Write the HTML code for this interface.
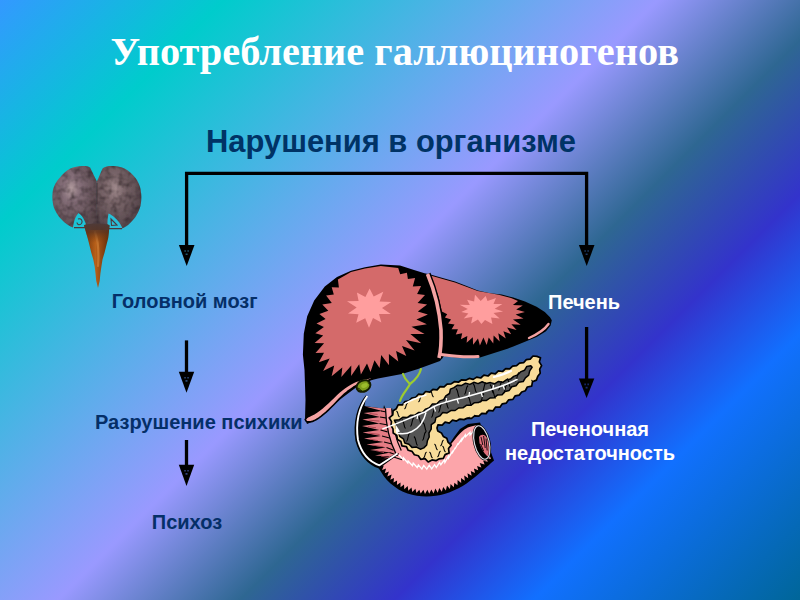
<!DOCTYPE html>
<html lang="ru"><head><meta charset="utf-8"><title>Употребление галлюциногенов</title>
<style>
html,body{margin:0;padding:0;}
body{width:800px;height:600px;overflow:hidden;position:relative;font-family:"Liberation Sans",sans-serif;
background:linear-gradient(135deg,#3399ff 0%,#00cccc 16%,#9999ff 47%,#2e6792 60%,#3333cc 71%,#1170ff 81%,#006699 100%);}
.t{position:absolute;white-space:nowrap;font-weight:bold;line-height:1;}
#title{left:110.4px;top:32px;font-family:"Liberation Serif",serif;font-size:40.35px;color:#fff;}
#sub{left:206px;top:126.8px;font-size:30.9px;color:#003366;}
.l{font-size:20px;color:#052f68;}
.w{font-size:20px;color:#fff;}
svg{position:absolute;left:0;top:0;}
</style></head><body>
<svg width="800" height="600" viewBox="0 0 800 600">
<defs>
<radialGradient id="lobeL" cx="0.42" cy="0.36" r="0.62"><stop offset="0" stop-color="#b29c9f"/><stop offset="0.3" stop-color="#86707a"/><stop offset="1" stop-color="#5a494e"/></radialGradient>
<radialGradient id="lobeR" cx="0.40" cy="0.36" r="0.66"><stop offset="0" stop-color="#a48e90"/><stop offset="0.3" stop-color="#7c686c"/><stop offset="1" stop-color="#524348"/></radialGradient>
<linearGradient id="stem" x1="0" x2="1" y1="0" y2="0"><stop offset="0" stop-color="#6b300a"/><stop offset="0.45" stop-color="#b8601a"/><stop offset="1" stop-color="#5e2a08"/></linearGradient>
<linearGradient id="stemtop" x1="0" x2="0" y1="0" y2="1"><stop offset="0" stop-color="#4e3a38" stop-opacity="1"/><stop offset="0.45" stop-color="#5a3420" stop-opacity="0.75"/><stop offset="1" stop-color="#7a3c10" stop-opacity="0"/></linearGradient>
<filter id="tex" x="0" y="0" width="1" height="1"><feTurbulence type="fractalNoise" baseFrequency="0.16" numOctaves="2" seed="4" result="n"/><feColorMatrix in="n" type="matrix" values="0 0 0 0 0  0 0 0 0 0  0 0 0 0 0  1.6 0 0 0 -0.62" result="a"/><feFlood flood-color="#2e2226"/><feComposite operator="in" in2="a"/><feComposite operator="in" in2="SourceAlpha" result="dark"/><feMerge><feMergeNode in="SourceGraphic"/><feMergeNode in="dark"/></feMerge></filter>
</defs>
<g id="brain">
<path d="M84,225.5 C88,222 105,222 109.6,225.5 L108.2,238 L104.6,252.4 L102.5,259.5 L101.4,266.6 L100.4,273.6 L99.7,280.7 L98,288 L96.2,280.7 L95.5,273.6 L94.7,266.6 L93.3,259.5 L91.2,252.4 L87.7,238 Z" fill="url(#stem)"/>
<path d="M95,232 C98,240 99,252 98,266" stroke="#cf7d35" stroke-width="2.2" fill="none" opacity="0.7" stroke-linecap="round"/>
<g filter="url(#tex)">
<path d="M96.9,181.5 L90,167.4 C88,166.3 85.5,165.9 82.5,166 C78,166.3 74,167 70,168.7 C66,171 62.5,174 60,177.5 C56.5,181 54,186 53,190 C52.3,194 52.2,197 52.5,200 C52.8,204 53.5,207 55,210 C57,214 59.5,217.5 62.5,220.5 C65.5,223.5 69,226 73,227.5 C73.5,222 75.5,216 78.5,213 C82,215 85,220 86.5,226 L86,230 L97,230 Z" fill="url(#lobeL)"/>
<path d="M96.9,181.5 L102.7,168.2 C105,166.5 108.5,165.9 112.5,166 C117,166.3 121,167 125,168.7 C129,171 132.5,174 135,177.5 C138,181 140,186 140.7,190 C141.3,194 141.4,197 141.2,200 C141,204 140.3,207.5 138.7,211 C137,215 135,218 132.5,220.5 C130,223.5 126.5,226.5 122.5,228.5 C120,222 114.5,216 108.5,213.5 C107.5,218 107.3,223 107.5,227 L108,230 L97,230 Z" fill="url(#lobeR)"/>
</g>
<path d="M97,183 L97,204" stroke="#3e3034" stroke-width="1.6" opacity="0.5"/>
<path d="M74,227.6 L86,227.6 M108,228.6 L122,228.6" stroke="#4a3a3e" stroke-width="1.2"/>
<path d="M78,219 C81.5,218 83,221 81.5,223.5 C80,225.5 77,225 77,222.5 M111,219 L117,225 L111.5,225.5 Z" stroke="#4a3a3e" stroke-width="1.1" fill="none"/>
<path d="M84.2,225 C90,223 104,223 109.4,225 L107.6,243 L88.8,243 Z" fill="url(#stemtop)"/>
</g>
<g id="arrows">
<path d="M186.6,246 V173.4 H586.6 V246" fill="none" stroke="#000" stroke-width="3.3" stroke-linejoin="miter"/>
<polygon points="178.9,245 194.5,245 186.7,266.1" fill="#000"/>
<polygon points="578.9,245 594.5,245 586.7,266.1" fill="#000"/>
<rect x="184.85" y="340.4" width="3.3" height="32.3" fill="#000"/><polygon points="178.8,371.7 194.2,371.7 186.5,392.7" fill="#000"/>
<rect x="184.85" y="440" width="3.3" height="25.7" fill="#000"/><polygon points="178.8,464.7 194.2,464.7 186.5,486" fill="#000"/>
<rect x="584.95" y="327" width="3.3" height="52.4" fill="#000"/><polygon points="578.9,378.4 594.3,378.4 586.6,398" fill="#000"/>
<path d="M184.4,250.2 h1.5 v1.6 h-1.5 Z M187.4,250.2 h1.5 v1.6 h-1.5 Z M185.6,253.4 h2 v1.7 h-2 Z" fill="#1f5870"/>
<path d="M584.4,250.2 h1.5 v1.6 h-1.5 Z M587.4,250.2 h1.5 v1.6 h-1.5 Z M585.6,253.4 h2 v1.7 h-2 Z" fill="#1c3a66"/>
<path d="M184.3,376.9 h1.5 v1.6 h-1.5 Z M187.3,376.9 h1.5 v1.6 h-1.5 Z M185.5,380.1 h2 v1.7 h-2 Z" fill="#2c4a78"/>
<path d="M184.3,469.9 h1.5 v1.6 h-1.5 Z M187.3,469.9 h1.5 v1.6 h-1.5 Z M185.5,473.1 h2 v1.7 h-2 Z" fill="#33407e"/>
<path d="M584.4,383.6 h1.5 v1.6 h-1.5 Z M587.4,383.6 h1.5 v1.6 h-1.5 Z M585.6,386.8 h2 v1.7 h-2 Z" fill="#182a70"/>
</g>
<g id="liver">
<polygon points="305.0,419.0 305.5,400.0 304.5,370.0 302.9,354.7 303.8,333.8 307.2,316.2 314.2,300.5 324.8,286.5 337.0,276.9 351.0,270.8 365.0,267.2 380.8,264.6 400.0,265.5 414.0,269.9 424.5,273.2 430.5,274.6 440.0,277.2 455.0,281.6 466.0,285.8 477.8,290.4 490.0,293.2 501.7,294.6 513.3,297.5 525.0,301.6 536.6,306.8 544.8,312.0 550.0,317.3 551.8,320.2 550.6,325.5 546.0,331.3 536.6,337.0 525.0,341.8 513.3,346.5 507.5,348.8 480.0,357.5 460.0,358.0 444.0,356.0 440.0,361.0 418.0,369.0 402.0,374.0 378.0,378.5 370.0,380.5 356.0,387.5 340.0,399.5 326.0,412.5 314.0,421.0 307.0,424.0" fill="#000"/>
<polygon points="307.0,417.2 307.7,416.9 309.0,416.2 310.9,415.2 313.6,414.0 316.3,412.3 319.1,410.4 322.0,408.1 325.0,405.4 327.9,402.8 330.7,400.2 333.4,397.6 336.1,394.9 338.8,392.4 341.6,390.1 344.5,387.9 347.5,385.8 350.4,384.0 353.2,382.5 355.9,381.3 358.6,380.4 361.1,379.6 363.5,378.9 365.9,378.4 368.1,378.1 369.8,377.8 370.9,377.6 371.5,377.5 372.2,378.9 371.8,379.1 370.9,379.4 369.7,379.8 368.0,380.5 366.1,381.2 363.9,382.1 361.6,383.1 358.9,384.2 356.2,385.6 353.4,387.3 350.5,389.3 347.5,391.5 344.6,393.9 341.8,396.5 339.1,399.1 336.4,402.0 333.8,404.7 331.2,407.3 328.6,409.8 325.9,412.3 323.4,414.4 321.0,416.4 318.6,418.1 316.4,419.5 314.3,420.6 312.4,421.4 310.6,421.8 309.0,421.8 307.7,421.7 306.7,421.4 306.1,421.0 305.7,420.4 305.5,420.0 305.3,419.6 305.2,419.5" fill="#f4a2a2" stroke="#000" stroke-width="1.6" stroke-linejoin="round"/>
<polygon points="337.9,279.5 351.0,272.0 365.0,268.5 380.8,265.9 398.2,268.0 400.2,274.3 406.9,272.8 407.9,278.9 415.1,278.1 412.8,286.4 421.1,285.9 417.1,293.9 425.0,294.9 417.6,303.0 427.1,304.6 417.8,311.4 427.9,314.5 416.4,319.5 426.9,324.3 411.5,326.7 424.6,333.9 410.4,334.0 421.3,343.2 406.0,339.9 414.6,350.4 402.0,345.9 406.3,356.0 396.1,350.9 398.3,361.6 388.9,353.9 389.0,365.2 381.2,355.0 379.6,368.1 374.5,360.2 370.5,372.0 367.0,363.4 360.9,374.5 359.2,364.3 351.1,375.9 351.3,365.5 341.3,377.0 342.3,367.5 331.6,376.2 334.2,365.4 323.1,371.1 329.7,358.6 318.8,362.2 324.0,352.7 315.5,352.9 324.1,343.3 314.6,343.1 323.2,335.6 315.3,333.3 323.9,327.1 316.5,323.4 325.6,318.9 319.4,314.0 328.3,310.8 322.3,304.5 331.8,303.1 326.1,295.4 333.8,294.6 331.7,287.2 338.9,287.4" fill="#d46a6a"/>
<polygon points="391.3,302.0 382.0,308.0 390.8,314.1 379.0,314.0 381.4,322.5 373.0,318.0 369.0,327.7 365.2,318.3 356.2,322.8 358.5,314.3 348.0,313.5 356.7,307.6 347.0,301.3 358.6,300.9 356.9,292.6 365.4,297.0 369.6,288.4 373.7,296.6 383.3,291.7 379.6,301.6" fill="#ff9e9e"/>
<polygon points="441.9,311.4 438.0,295.0 430.5,275.5 440.0,278.3 455.0,282.5 477.7,291.0 498.7,294.7 511.0,298.0 518.0,301.0 512.9,305.0 522.8,305.6 516.2,309.4 524.9,312.0 515.6,314.6 523.5,318.6 513.0,319.4 520.7,324.8 511.4,324.3 516.6,330.1 507.1,327.5 511.2,334.2 503.4,331.3 505.8,338.4 498.3,333.2 499.7,341.5 493.6,335.4 493.3,343.6 488.7,337.6 486.7,344.9 483.4,337.6 479.9,345.4 478.0,338.5 473.1,344.7 472.8,337.2 466.6,342.7 467.3,335.9 460.9,339.2 462.2,333.2 455.8,334.6 457.9,329.3 451.6,329.3 454.5,324.5 448.0,323.6 451.1,319.5 444.9,317.5 447.2,314.2" fill="#d46a6a"/>
<polygon points="503.1,311.5 493.5,313.0 499.7,318.4 491.1,317.5 492.4,324.1 485.0,320.1 481.4,324.0 477.9,319.4 471.1,323.5 472.5,316.8 463.7,318.5 468.4,313.4 461.3,311.9 467.8,309.1 459.7,304.8 469.8,305.0 467.1,299.8 474.1,301.6 475.0,294.8 480.7,301.0 485.7,295.9 487.5,301.1 496.0,298.0 493.5,303.9 502.4,304.1 494.7,308.7" fill="#ff9e9e"/>
<path d="M427.5,274 C433,287 439,305 441,330 C441.5,345 440.5,352 439,358" fill="none" stroke="#000" stroke-width="6.5"/>
<path d="M427.5,274 C433,287 439,305 441,330 C441.5,345 440.5,352 439,358" fill="none" stroke="#f4a2a2" stroke-width="3.6"/>
<path d="M441,354.5 C452,356 466,357.5 478,356.5" fill="none" stroke="#f4a2a2" stroke-width="3" stroke-linecap="round"/>
<path d="M529,338 C538,334 545,329 548.5,324" fill="none" stroke="#f4a2a2" stroke-width="2.4" stroke-linecap="round"/>
</g>
<g id="gall">
<ellipse cx="363.5" cy="386" rx="7.2" ry="5.5" transform="rotate(-25 363.5 386)" fill="#7e9c1c" stroke="#141c00" stroke-width="2"/><ellipse cx="364.5" cy="385.5" rx="3.4" ry="2.2" transform="rotate(-25 364.5 385.5)" fill="#9cbc2c"/><path d="M358,388 l2.5,1.5 M359.5,390 l2.5,0.8 M368,382.5 l1.6,1.8" stroke="#141c00" stroke-width="0.9"/>
<path d="M421,369 C419,377 414,381 410,384 M403,374 C405,380 408,382 410,384 C407,390 402,394 400,401" fill="none" stroke="#9ccc30" stroke-width="2.2" stroke-linecap="round"/>
</g>
<g id="duo">
<polygon points="376.5,465.0 377.2,466.1 378.7,468.3 380.8,471.6 383.7,475.9 386.9,479.9 390.5,483.5 394.4,486.6 398.6,489.4 403.0,491.7 407.5,493.5 412.1,494.8 416.9,495.7 421.6,496.2 426.4,496.4 431.1,496.2 435.9,495.8 440.6,494.9 445.2,493.7 449.8,492.2 454.2,490.3 458.6,488.2 462.7,485.9 466.6,483.4 470.4,480.6 473.8,478.0 476.9,475.5 479.8,473.1 482.2,470.9 484.6,468.8 486.9,466.8 489.0,464.9 491.0,463.1 492.5,461.8 493.5,460.9 494.0,460.5 480.0,422.5 468.0,424.0 460.0,429.0 454.0,437.0 448.0,446.0 440.0,452.0 420.0,455.0 400.0,447.0 384.0,405.0 378.0,440.0" fill="#000"/>
<polygon points="379.5,466.5 383.8,465.4 382.1,469.9 386.1,468.6 384.7,473.3 388.9,471.5 387.3,476.6 391.6,474.4 390.3,479.7 394.0,477.9 393.5,482.5 397.1,480.4 396.9,485.0 400.5,482.6 400.5,487.3 404.0,484.6 404.3,489.2 407.7,486.1 408.3,490.8 411.5,487.4 412.3,492.1 415.4,488.7 416.5,493.0 419.3,489.7 420.7,493.6 423.4,489.7 425.0,493.9 427.4,489.8 429.2,493.8 431.4,489.4 433.5,493.4 435.4,488.5 437.7,492.8 439.3,488.0 441.8,491.8 443.2,487.1 445.9,490.6 447.0,485.6 449.9,489.0 450.6,484.0 453.8,487.2 454.4,482.7 457.5,485.3 457.6,480.0 461.2,483.1 461.0,478.0 464.8,480.8 464.2,475.6 468.2,478.3 467.5,473.3 471.6,475.7 470.8,471.1 475.0,473.0 473.9,468.6 478.2,470.3 477.1,466.1 481.4,467.4 479.7,463.1 484.6,464.6 483.2,460.8 487.8,461.8 486.3,458.2 491.0,459.0 478.0,425.0 477.5,425.1 476.5,425.3 475.0,425.6 473.0,425.9 471.1,426.4 469.4,427.0 467.8,427.6 466.2,428.4 464.8,429.3 463.2,430.4 461.8,431.8 460.2,433.2 458.8,434.8 457.2,436.5 455.8,438.3 454.2,440.2 452.8,442.1 451.2,444.0 449.8,446.0 448.2,448.0 446.5,449.8 444.5,451.2 442.2,452.5 439.8,453.5 436.9,453.9 433.6,453.8 430.0,453.1 426.0,451.9 422.2,450.4 418.8,448.8 415.5,447.0 412.5,445.0 409.6,442.9 406.9,440.6 404.2,438.2 401.8,435.8 399.5,433.1 397.5,430.4 395.8,427.5 394.2,424.5 393.0,421.6 392.0,418.7 391.2,415.9 390.8,413.1 390.1,411.1 389.4,409.7 388.5,409.0 387.5,409.0 386.8,410.9 386.2,414.8 386.0,420.6 386.0,428.4 385.9,435.1 385.6,440.9 385.2,445.6 384.8,449.4 384.4,452.2 384.1,454.1 384.0,455.0" fill="#fca5aa"/>
<polyline points="399.0,455.0 403.5,459.8 403.6,458.0 407.8,462.9 408.1,461.0 412.5,465.6 413.2,463.0 417.2,467.5 418.4,464.9 421.9,469.1 423.7,465.4 426.8,469.2 429.2,465.2 431.7,468.9 434.6,464.7 436.3,467.5 439.5,462.3 440.8,464.7 444.4,459.8 444.9,462.5 448.4,456.3 448.5,458.1 452.0,452.1 452.0,453.5 455.2,447.7 455.0,449.0 458.2,443.2 458.0,444.6 461.7,438.9 461.6,440.5 465.3,434.8 465.6,436.7 470.0,432.2 470.1,434.9 475.0,430.0" fill="none" stroke="#fff" stroke-width="1.3" stroke-linejoin="miter"/>
<ellipse cx="481.8" cy="442.5" rx="8.6" ry="18.3" transform="rotate(-13 481.8 442.5)" fill="#000"/>
<ellipse cx="481.8" cy="442.5" rx="7.4" ry="17.1" transform="rotate(-13 481.8 442.5)" fill="#000" stroke="#dcdce4" stroke-width="1.2"/>
<path d="M479,437 C481,433.5 485,434 487,438 C489,444 489.5,451 488,456.5 C485,455 481.5,449 479.5,443 Z" fill="#e0707c"/>
<path d="M481,437 l1.8,8 M483.6,436 l1.6,12 M486,438.5 l1.2,12 M480.6,444 l3,7" stroke="#000" stroke-width="0.9" fill="none"/>
<path d="M366.5,394.5 C357,405 352.5,423 355.5,441 C359,455 368,465 379,468.5 L399,454 C392,440 390,425 389.5,409.5 L364.5,406 Z" fill="#000"/>
<polygon points="388.5,409.0 365.0,406.5 382.5,411.0 363.6,413.0 379.9,417.0 362.4,419.5 379.5,423.5 362.0,426.0 379.3,430.0 362.6,432.5 380.8,436.0 364.0,438.5 383.5,442.0 366.5,444.5 385.8,447.5 370.0,450.0 390.5,452.5 375.0,455.5 391.0,456.5 381.0,460.0 397.5,453.5 393.0,440.0 390.5,430.0 389.0,420.0" fill="#e47c84"/>
<path d="M381.0,411.0 l7.0,1.2" stroke="#000" stroke-width="1.1" fill="none"/>
<path d="M380.0,417.0 l8.5,1.4" stroke="#000" stroke-width="1.1" fill="none"/>
<path d="M379.5,423.5 l10.0,1.7" stroke="#000" stroke-width="1.1" fill="none"/>
<path d="M380.5,430.0 l7.0,1.9" stroke="#000" stroke-width="1.1" fill="none"/>
<path d="M382.0,436.0 l8.5,2.2" stroke="#000" stroke-width="1.1" fill="none"/>
<path d="M384.0,442.0 l10.0,2.5" stroke="#000" stroke-width="1.1" fill="none"/>
<path d="M386.5,447.5 l7.0,2.7" stroke="#000" stroke-width="1.1" fill="none"/>
<path d="M389.5,452.5 l8.5,3.0" stroke="#000" stroke-width="1.1" fill="none"/>
<path d="M392.0,456.5 l10.0,3.2" stroke="#000" stroke-width="1.1" fill="none"/>
<path d="M369.6,413.6 l8.0,0.8" stroke="#a8404c" stroke-width="0.9" fill="none"/>
<path d="M368.4,420.1 l11.0,1.0" stroke="#a8404c" stroke-width="0.9" fill="none"/>
<path d="M368.0,426.6 l8.0,1.2" stroke="#a8404c" stroke-width="0.9" fill="none"/>
<path d="M368.6,433.1 l11.0,1.4" stroke="#a8404c" stroke-width="0.9" fill="none"/>
<path d="M370.0,439.1 l8.0,1.6" stroke="#a8404c" stroke-width="0.9" fill="none"/>
<path d="M372.5,445.1 l11.0,1.8" stroke="#a8404c" stroke-width="0.9" fill="none"/>
<path d="M376.0,450.6 l8.0,2.0" stroke="#a8404c" stroke-width="0.9" fill="none"/>
<path d="M381.0,456.1 l11.0,2.2" stroke="#a8404c" stroke-width="0.9" fill="none"/>
<path d="M388.6,408.5 C389,424 392,439 398.5,452" fill="none" stroke="#000" stroke-width="7.4"/>
<path d="M388.6,408 C389,424 392,439 399,453" fill="none" stroke="#fca5aa" stroke-width="5"/>
<path d="M367.3,396 C359,407.5 355.5,423 358,440 C361.5,453.5 370,462 379.5,465.3 L397.5,453.5" fill="none" stroke="#fff" stroke-width="1.9" stroke-linejoin="round"/>
</g>
<g id="panc">
<clipPath id="cc"><polygon points="540.5,357.7 539.3,361.9 541.6,365.6 539.7,369.2 540.2,373.2 537.8,376.3 536.4,380.1 532.5,381.7 531.7,386.1 527.3,387.0 525.4,390.7 521.7,392.0 519.2,395.1 515.2,395.8 512.9,399.4 508.7,399.8 506.3,403.1 502.3,403.8 499.9,407.2 495.5,407.1 493.1,410.8 488.7,410.3 486.1,413.7 481.8,413.3 478.8,416.1 474.7,415.9 471.5,418.4 467.5,418.1 464.0,419.6 460.0,419.1 456.5,421.1 452.5,420.2 449.3,423.1 445.1,422.1 442.2,425.2 437.9,424.9 437.0,428.1 437.8,431.1 441.4,432.9 443.3,436.4 446.8,438.3 448.0,442.1 451.2,445.1 448.5,448.5 449.1,452.9 445.1,454.6 443.3,458.3 439.3,458.8 435.9,460.7 432.0,459.9 428.2,462.0 425.0,458.6 420.7,459.3 418.3,455.8 414.4,454.8 412.1,451.4 408.2,450.3 406.4,446.6 401.9,445.8 400.9,441.6 397.4,439.5 396.8,435.4 393.2,433.0 393.0,428.9 391.0,425.6 391.5,421.6 389.2,417.8 392.8,414.9 393.1,410.8 396.3,408.7 398.2,404.9 402.6,404.8 405.0,401.5 409.1,400.9 411.8,398.0 415.7,397.3 418.5,394.2 422.8,394.6 425.6,391.5 429.9,392.2 432.9,389.3 437.1,389.9 440.0,386.6 444.1,386.8 447.1,384.1 451.1,383.9 454.4,381.7 458.4,382.2 461.7,379.8 465.7,380.2 469.2,378.4 473.2,379.4 476.7,377.1 480.7,378.0 483.9,375.2 488.1,376.0 491.2,373.2 495.3,373.9 498.4,370.9 502.5,371.5 505.7,368.7 509.7,368.9 512.6,366.2 516.6,365.7 519.5,363.1 523.6,362.7 526.3,359.6 530.2,359.1 533.0,356.0 536.9,356.4"/></clipPath>
<polygon points="540.5,357.7 539.3,361.9 541.6,365.6 539.7,369.2 540.2,373.2 537.8,376.3 536.4,380.1 532.5,381.7 531.7,386.1 527.3,387.0 525.4,390.7 521.7,392.0 519.2,395.1 515.2,395.8 512.9,399.4 508.7,399.8 506.3,403.1 502.3,403.8 499.9,407.2 495.5,407.1 493.1,410.8 488.7,410.3 486.1,413.7 481.8,413.3 478.8,416.1 474.7,415.9 471.5,418.4 467.5,418.1 464.0,419.6 460.0,419.1 456.5,421.1 452.5,420.2 449.3,423.1 445.1,422.1 442.2,425.2 437.9,424.9 437.0,428.1 437.8,431.1 441.4,432.9 443.3,436.4 446.8,438.3 448.0,442.1 451.2,445.1 448.5,448.5 449.1,452.9 445.1,454.6 443.3,458.3 439.3,458.8 435.9,460.7 432.0,459.9 428.2,462.0 425.0,458.6 420.7,459.3 418.3,455.8 414.4,454.8 412.1,451.4 408.2,450.3 406.4,446.6 401.9,445.8 400.9,441.6 397.4,439.5 396.8,435.4 393.2,433.0 393.0,428.9 391.0,425.6 391.5,421.6 389.2,417.8 392.8,414.9 393.1,410.8 396.3,408.7 398.2,404.9 402.6,404.8 405.0,401.5 409.1,400.9 411.8,398.0 415.7,397.3 418.5,394.2 422.8,394.6 425.6,391.5 429.9,392.2 432.9,389.3 437.1,389.9 440.0,386.6 444.1,386.8 447.1,384.1 451.1,383.9 454.4,381.7 458.4,382.2 461.7,379.8 465.7,380.2 469.2,378.4 473.2,379.4 476.7,377.1 480.7,378.0 483.9,375.2 488.1,376.0 491.2,373.2 495.3,373.9 498.4,370.9 502.5,371.5 505.7,368.7 509.7,368.9 512.6,366.2 516.6,365.7 519.5,363.1 523.6,362.7 526.3,359.6 530.2,359.1 533.0,356.0 536.9,356.4" fill="#f8dc9a" stroke="#000" stroke-width="1.7" stroke-linejoin="round"/>
<polygon points="394.4,420.2 399.1,419.8 402.7,417.3 407.1,417.6 410.7,415.2 414.9,415.0 418.4,412.5 422.7,412.2 425.6,409.1 429.5,407.6 432.2,404.1 436.7,404.0 439.6,400.9 443.7,399.6 445.8,395.8 449.5,393.5 450.4,389.1 454.0,387.6 457.5,385.2 461.8,385.4 465.6,383.2 469.9,384.4 473.8,382.3 478.1,383.6 482.2,381.7 486.2,383.6 490.4,382.6 494.6,383.8 498.5,381.4 502.8,382.3 506.3,379.8 510.5,379.1 513.7,376.4 517.6,374.9 520.5,371.9 524.5,370.3 526.8,366.4 530.8,365.7 532.1,367.3 529.7,370.8 528.7,375.1 525.4,377.8 523.2,381.5 518.7,382.2 516.0,385.7 511.8,386.8 509.2,390.4 505.0,391.4 502.1,394.7 497.6,394.9 494.3,397.8 490.0,398.0 486.5,400.4 482.1,400.4 478.5,402.6 474.2,402.8 470.7,405.3 466.4,405.3 462.9,407.8 458.6,408.0 455.1,410.5 450.8,410.6 447.1,412.9 442.7,412.6 439.9,415.9 435.9,417.6 434.9,422.1 431.3,424.7 431.2,429.1 429.0,432.8 429.2,437.0 427.4,440.8 426.7,445.0 423.8,447.9 420.3,449.2 416.5,447.1 412.0,447.4 408.9,444.3 404.8,443.0 403.4,438.8 399.7,436.4 398.6,432.2 396.5,428.6 396.3,424.4" fill="#555" stroke="#000" stroke-width="1.5" stroke-linejoin="round"/>
<path d="M456,388.5 C459,391.5 457,394.5 459.5,397.5" stroke="#000" stroke-width="1.1" fill="none"/>
<path d="M468,385.5 C465,388.5 467,391.5 464.5,394.5" stroke="#000" stroke-width="1.1" fill="none"/>
<path d="M473,383.5 C476,386.5 474,389.5 476.5,392.5" stroke="#000" stroke-width="1.1" fill="none"/>
<path d="M486,382.5 C483,385.5 485,388.5 482.5,391.5" stroke="#000" stroke-width="1.1" fill="none"/>
<path d="M490,384.5 C493,387.5 491,390.5 493.5,393.5" stroke="#000" stroke-width="1.1" fill="none"/>
<path d="M502,381.5 C499,384.5 501,387.5 498.5,390.5" stroke="#000" stroke-width="1.1" fill="none"/>
<path d="M507,378.5 C510,381.5 508,384.5 510.5,387.5" stroke="#000" stroke-width="1.1" fill="none"/>
<path d="M519,372.5 C516,375.5 518,378.5 515.5,381.5" stroke="#000" stroke-width="1.1" fill="none"/>
<path d="M468,396.5 C471,399.5 469,402.5 471.5,405.5" stroke="#000" stroke-width="1.1" fill="none"/>
<path d="M484,393.5 C481,396.5 483,399.5 480.5,402.5" stroke="#000" stroke-width="1.1" fill="none"/>
<path d="M492,389.5 C495,392.5 493,395.5 495.5,398.5" stroke="#000" stroke-width="1.1" fill="none"/>
<path d="M507,384.5 C504,387.5 506,390.5 503.5,393.5" stroke="#000" stroke-width="1.1" fill="none"/>
<path d="M445,399.5 C448,402.5 446,405.5 448.5,408.5" stroke="#000" stroke-width="1.1" fill="none"/>
<path d="M442,403.5 C439,406.5 441,409.5 438.5,412.5" stroke="#000" stroke-width="1.1" fill="none"/>
<path d="M402,419.5 C405,422.5 403,425.5 405.5,428.5" stroke="#000" stroke-width="1.1" fill="none"/>
<path d="M414,417.5 C411,420.5 413,423.5 410.5,426.5" stroke="#000" stroke-width="1.1" fill="none"/>
<path d="M418,415.5 C421,418.5 419,421.5 421.5,424.5" stroke="#000" stroke-width="1.1" fill="none"/>
<path d="M410,432.5 C407,435.5 409,438.5 406.5,441.5" stroke="#000" stroke-width="1.1" fill="none"/>
<path d="M414,436.5 C417,439.5 415,442.5 417.5,445.5" stroke="#000" stroke-width="1.1" fill="none"/>
<path d="M426,431.5 C423,434.5 425,437.5 422.5,440.5" stroke="#000" stroke-width="1.1" fill="none"/>
<path d="M423,422.5 C426,425.5 424,428.5 426.5,431.5" stroke="#000" stroke-width="1.1" fill="none"/>
<path d="M435,408.5 C432,411.5 434,414.5 431.5,417.5" stroke="#000" stroke-width="1.1" fill="none"/>
<g clip-path="url(#cc)">
<path d="M434.5,444 C437,446 435,448 437.5,450" stroke="#000" stroke-width="1.1" fill="none"/>
<path d="M443.5,440 C441,442 443,444 440.5,446" stroke="#000" stroke-width="1.1" fill="none"/>
<path d="M429.5,452 C432,454 430,456 432.5,458" stroke="#000" stroke-width="1.1" fill="none"/>
<path d="M440.5,451 C438,453 440,455 437.5,457" stroke="#000" stroke-width="1.1" fill="none"/>
<path d="M442.5,446 C445,448 443,450 445.5,452" stroke="#000" stroke-width="1.1" fill="none"/>
<path d="M426.5,452 C424,454 426,456 423.5,458" stroke="#000" stroke-width="1.1" fill="none"/>
<path d="M444.5,427 C447,429 445,431 447.5,433" stroke="#000" stroke-width="1.1" fill="none"/>
<path d="M453.5,422 C451,424 453,426 450.5,428" stroke="#000" stroke-width="1.1" fill="none"/>
<path d="M458.5,419 C461,421 459,423 461.5,425" stroke="#000" stroke-width="1.1" fill="none"/>
<path d="M469.5,417 C467,419 469,421 466.5,423" stroke="#000" stroke-width="1.1" fill="none"/>
<path d="M474.5,415 C477,417 475,419 477.5,421" stroke="#000" stroke-width="1.1" fill="none"/>
<path d="M487.5,411 C485,413 487,415 484.5,417" stroke="#000" stroke-width="1.1" fill="none"/>
<path d="M495.5,407 C498,409 496,411 498.5,413" stroke="#000" stroke-width="1.1" fill="none"/>
<path d="M508.5,402 C506,404 508,406 505.5,408" stroke="#000" stroke-width="1.1" fill="none"/>
<path d="M515.5,396 C518,398 516,400 518.5,402" stroke="#000" stroke-width="1.1" fill="none"/>
<path d="M527.5,389 C525,391 527,393 524.5,395" stroke="#000" stroke-width="1.1" fill="none"/>
<path d="M531.5,380 C534,382 532,384 534.5,386" stroke="#000" stroke-width="1.1" fill="none"/>
<path d="M421.5,396 C419,398 421,400 418.5,402" stroke="#000" stroke-width="1.1" fill="none"/>
<path d="M430.5,391 C433,393 431,395 433.5,397" stroke="#000" stroke-width="1.1" fill="none"/>
<path d="M407.5,403 C405,405 407,407 404.5,409" stroke="#000" stroke-width="1.1" fill="none"/>
<path d="M396.5,411 C399,413 397,415 399.5,417" stroke="#000" stroke-width="1.1" fill="none"/>
</g>
<path d="M494,377 C500,375.5 506,373.5 511,371" stroke="#fff" stroke-width="2.2" fill="none" stroke-linecap="round"/>
<path d="M404,404 C410,400.5 418,397.5 426,395" stroke="#fff" stroke-width="1.4" fill="none" stroke-linecap="round"/>
<path d="M383,428.7 C397,424 412,417 425,412 C430,408.5 435,405.5 440,404 C450,400.5 460,398.5 470,395.7 C480,393 495,388.7 507,384 C511,382 514,381 517,379.5" fill="none" stroke="#fff" stroke-width="1.6" stroke-linecap="round"/>
<path d="M396.5,433 C402,434.5 408,433.5 412,431.5 C419,428 424,421 426,412.5" fill="none" stroke="#fff" stroke-width="1.4"/>
<path d="M395.5,424 L400,431.5 L396,433 Z" fill="#fff"/>
<path d="M434,407 l1.5,4.5" stroke="#fff" stroke-width="1.2"/>
<path d="M446,402 l0.5,-4" stroke="#fff" stroke-width="1.2"/>
<path d="M457,399 l1.5,4.5" stroke="#fff" stroke-width="1.2"/>
<path d="M469,396 l0.5,-4" stroke="#fff" stroke-width="1.2"/>
<path d="M481,392.5 l1.5,4.5" stroke="#fff" stroke-width="1.2"/>
<path d="M493,389 l0.5,-4" stroke="#fff" stroke-width="1.2"/>
<path d="M503,385.5 l1.5,4" stroke="#fff" stroke-width="1.2"/>
<path d="M418,415 l-1,4" stroke="#fff" stroke-width="1.2"/>
</g>
</svg>
<div class="t" id="title">Употребление галлюциногенов</div>
<div class="t" id="sub">Нарушения в организме</div>
<div class="t l" id="l1" style="left:111.7px;top:291.3px">Головной мозг</div>
<div class="t l" id="l2" style="left:95px;top:411.8px">Разрушение психики</div>
<div class="t l" id="l3" style="left:151.8px;top:512px">Психоз</div>
<div class="t w" id="l4" style="left:548px;top:292px">Печень</div>
<div class="t w" id="l5" style="left:490px;width:200px;text-align:center;top:417px;line-height:24px;white-space:normal">Печеночная<br>недостаточность</div>
</body></html>
